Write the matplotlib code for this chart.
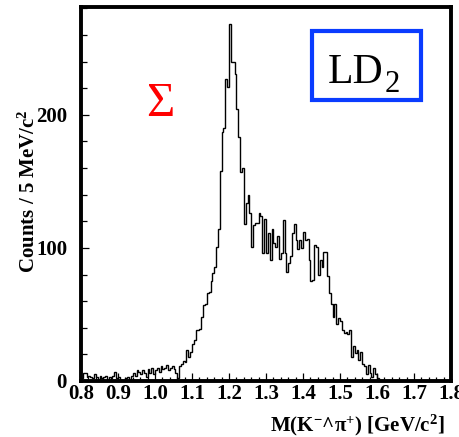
import numpy as np
import matplotlib
matplotlib.use("Agg")
import matplotlib.pyplot as plt
from matplotlib.ticker import MultipleLocator, FormatStrFormatter
from matplotlib.patches import Rectangle

# ---- data -------------------------------------------------------------
mass_low = 0.8
mass_high = 1.8
n_bins = 200  # 5 MeV bins

counts_low = [2, 6, 6, 3, 4, 3, 2, 5, 3, 1,
              4, 2, 3, 4, 1, 3, 2, 4, 7, 2,
              3, 1, 0, 1, 2, 3, 1, 4, 6, 4,
              8, 7, 5, 8, 6, 3, 9, 6, 10, 5,
              8, 10, 7, 11, 9, 10, 12, 8, 10, 11,
              9, 6, 2]
counts_peak = [11, 13, 15, 14, 23, 18, 22, 28, 31, 38,
               38, 39, 48, 57, 58, 66, 67, 75, 81, 86,
               101, 114, 158, 187, 190, 227, 221, 268, 240, 240,
               231, 204, 183, 157, 160, 118, 134, 140]
counts_tail = [126, 101, 117, 119, 119, 126, 124, 96, 122, 96,
               111, 91, 114, 104, 101, 109, 92, 96, 121, 96,
               82, 89, 94, 111, 118, 106, 99, 106, 100, 112,
               106, 107, 91, 75, 76, 102, 101, 80, 91, 86,
               97, 97, 79, 66, 58, 48, 58, 43, 47, 45,
               38, 36, 37, 35, 38, 18, 26, 21, 23, 16,
               22, 13, 11, 5, 12, 6, 3, 10, 5, 2,
               1, 0, 1]
counts_high = [0, 0, 1, 0, 0, 0, 0, 0, 0, 0,
               0, 0, 0, 0, 0, 0, 0, 0, 0, 0,
               0, 0, 0, 0, 0, 0, 0, 0, 0, 0,
               0, 0, 0, 0, 0, 0]

x_ticks = [0.8, 0.9, 1.0, 1.1, 1.2, 1.3, 1.4, 1.5, 1.6, 1.7, 1.8]
y_ticks = [0, 100, 200]

x_title = r"M(K$^{\mathbf{-}}$^$\mathbf{\pi}^{\mathbf{+}}$) [GeV/c$^{\mathbf{2}}$]"
y_title = r"Counts / 5 MeV/c$^{\mathbf{2}}$"
peak_label = "\u03A3"
target_main = "LD"
target_sub = "2"

counts = np.array(counts_low + counts_peak + counts_tail + counts_high)
edges = np.linspace(mass_low, mass_high, n_bins + 1)

# ---- style ------------------------------------------------------------
plt.rcParams["font.family"] = ["Liberation Serif", "DejaVu Serif"]
plt.rcParams["mathtext.fontset"] = "custom"
plt.rcParams["mathtext.rm"] = "Liberation Serif"
plt.rcParams["mathtext.bf"] = "Liberation Serif:bold"
plt.rcParams["mathtext.it"] = "Liberation Serif:italic"

fig = plt.figure(figsize=(4.6, 4.37), dpi=100)
ax = fig.add_axes([81 / 460, 1 - 381 / 437, 370 / 460, 374 / 437])

ax.stairs(counts, edges, color="black", linewidth=1.0)

ax.set_xlim(mass_low, mass_high)
ax.set_ylim(0, 281)

for s in ax.spines.values():
    s.set_linewidth(2.8)
    s.set_color("black")

ax.set_xticks(x_ticks)
ax.set_yticks(y_ticks)
ax.xaxis.set_major_formatter(FormatStrFormatter("%.1f"))
ax.xaxis.set_minor_locator(MultipleLocator(0.02))
ax.yaxis.set_minor_locator(MultipleLocator(20))
ax.tick_params(axis="both", which="both", direction="in", top=False, right=False,
               width=0.9, color="black")
ax.tick_params(axis="x", which="major", length=6, pad=2, labelsize=15)
ax.tick_params(axis="x", which="minor", length=3)
ax.tick_params(axis="y", which="major", length=6, pad=10, labelsize=15)
ax.tick_params(axis="y", which="minor", length=4.5)
for lab in ax.get_xticklabels() + ax.get_yticklabels():
    lab.set_fontweight("bold")

ax.set_xlabel(x_title, fontsize=15, fontweight="bold")
ax.xaxis.set_label_coords(0.984, -0.118)
ax.xaxis.label.set_ha("right")
ax.xaxis.label.set_va("center")

ax.set_ylabel(y_title, fontsize=15, fontweight="bold")
ax.yaxis.set_label_coords(-0.14, 0.508)
ax.yaxis.label.set_va("center")

ax.text(0.2135, 0.741, peak_label, transform=ax.transAxes, color="#ff0000",
        fontsize=35, ha="center", va="center")

ax.add_patch(Rectangle((0.624, 0.752), 0.295, 0.184, transform=ax.transAxes,
                       fill=False, edgecolor="#0a3cff", linewidth=3.0, zorder=5))
ax.text(0.816, 0.798, target_main, transform=ax.transAxes, color="black",
        fontsize=30, ha="right", va="baseline")
ax.text(0.821, 0.773, target_sub, transform=ax.transAxes, color="black",
        fontsize=22, ha="left", va="baseline")

fig.savefig("out.png", dpi=100)
